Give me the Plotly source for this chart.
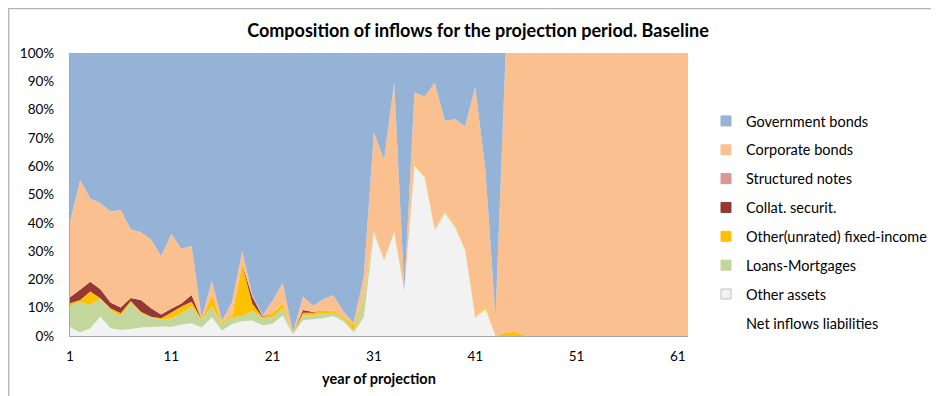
import plotly.graph_objects as go

years = list(range(1, 63))

other_assets = [3.2, 1.2, 2.7, 6.9, 2.7, 2.1, 2.5, 3.0, 3.2, 3.4,
                3.2, 4.1, 4.5, 3.0, 6.6, 1.9, 4.2, 5.2, 5.5, 3.7,
                4.3, 7.2, 0.5, 5.6, 5.9, 6.3, 7.1, 5.1, 1.2, 6.6,
                36.3, 26.6, 36.5, 15.8, 60.2, 56.0, 37.3, 43.3, 38.4, 30.2,
                6.4, 9.5, 0, 0, 0] + [0] * 17
loans_mortgages = [7.6, 10.8, 8.3, 6.2, 6.5, 5.0, 9.3, 5.0, 3.3, 2.5,
                   3.0, 3.9, 5.9, 2.6, 3.8, 2.4, 2.4, 1.9, 3.4, 2.5,
                   2.5, 2.6, 0.3, 1.8, 1.3, 1.7, 1.1, 1.1, 0.7, 6.9,
                   0.7, 0.3, 0.3, 0.1, 0.2, 0.3, 0.2, 0.7, 0.3, 0.2,
                   0.2, 0.2, 0, 0, 0] + [0] * 17
other_fixed_income = [0.8, 0.7, 4.7, 0.2, 0.6, 0.9, 0.6, 0.6, 0.3, 0.4,
                      2.1, 2.4, 1.7, 0.2, 4.1, 0.6, 0.8, 18.0, 2.5, 0.4,
                      1.2, 1.7, 0.2, 0.8, 1.0, 0.9, 0.7, 0.6, 2.0, 0.5,
                      0.3, 0.2, 0.2, 0.1, 0.6, 0.5, 0.3, 0.3, 0.3, 0.3,
                      0.2, 0.6, 0, 1.2, 1.5] + [0] * 17
collat_securit = [2.1, 3.6, 3.5, 3.2, 2.0, 2.1, 1.0, 4.1, 3.0, 1.3,
                  1.3, 1.1, 2.4, 0.1, 0, 0, 0, 0.2, 2.5, 0.3,
                  0, 0, 0, 1.0, 0.3, 0, 0, 0, 0, 0,
                  0, 0, 0, 0, 0, 0, 0, 0, 0, 0,
                  0, 0, 0, 0, 0] + [0] * 17
structured_notes = [0] * 62
corporate_bonds = [26.7, 38.8, 29.4, 30.4, 32.2, 34.4, 24.3, 24.0, 24.3, 20.7,
                   26.4, 19.3, 17.3, 0.5, 4.9, 0.5, 4.7, 4.7, 0.6, 0.3,
                   4.5, 7.3, 0.2, 4.7, 2.2, 4.1, 5.5, 1.8, 0.6, 7.2,
                   34.5, 35.3, 52.5, 0.3, 25.0, 27.8, 51.7, 31.8, 37.6, 43.3,
                   81.3, 48.4, 6.8, 98.8, 98.5] + [100] * 17
government_bonds = [59.6, 44.9, 51.4, 53.1, 56.0, 55.5, 62.3, 63.3, 65.9, 71.7,
                    64.0, 69.2, 68.2, 93.6, 80.6, 94.6, 87.9, 70.0, 85.5, 92.8,
                    87.5, 81.2, 98.8, 86.1, 89.3, 87.0, 85.6, 91.4, 95.5, 78.8,
                    28.2, 37.6, 10.5, 83.7, 14.0, 15.4, 10.5, 23.9, 23.4, 26.0,
                    11.9, 41.3, 93.2, 0, 0] + [0] * 17

series = [
    ("Other assets", other_assets, "#F2F2F2"),
    ("Loans-Mortgages", loans_mortgages, "#C3D69B"),
    ("Other(unrated) fixed-income", other_fixed_income, "#FFC000"),
    ("Collat. securit.", collat_securit, "#953735"),
    ("Structured notes", structured_notes, "#D99694"),
    ("Corporate bonds", corporate_bonds, "#FAC090"),
    ("Government bonds", government_bonds, "#95B3D7"),
]

xtick_vals = [1, 11, 21, 31, 41, 51, 61]
ytick_vals = [0, 10, 20, 30, 40, 50, 60, 70, 80, 90, 100]
ytick_text = [f"{v}%" for v in ytick_vals]

FONT = "Lato, 'Open Sans', sans-serif"

fig = go.Figure()
for name, vals, color in series:
    fig.add_trace(go.Scatter(
        x=years, y=vals, name=name, mode="none", stackgroup="one",
        groupnorm="percent", fillcolor=color, showlegend=False,
        hoverinfo="x+y+name"))

# legend entries, top to bottom
for i, (name, vals, color) in enumerate(reversed(series)):
    line_col = "#BFBFBF" if name == "Other assets" else color
    fig.add_trace(go.Scatter(x=[None], y=[None], mode="markers", name=name,
                             marker=dict(size=10, symbol="square", color=color,
                                         line=dict(color=line_col, width=1)),
                             legendgroup=f"g{i}"))
fig.add_trace(go.Scatter(x=[None], y=[None], mode="markers", name="Net inflows liabilities",
                         marker=dict(size=10, symbol="square", color="rgba(0,0,0,0)"),
                         legendgroup="g9"))

OFF = 8  # page body offset
W, H = 939 - OFF, 396 - OFF
L, R, T, B = 70 - OFF, 688 - OFF, 53 - OFF, 336 - OFF
pw, ph = R - L, B - T

fig.update_layout(
    width=W, height=H,
    margin=dict(l=L, r=W - R, t=T, b=H - B, autoexpand=False),
    paper_bgcolor="white", plot_bgcolor="white",
    font=dict(family=FONT, size=13, color="#000000"),
    title=dict(text="<b>Composition of inflows for the projection period. Baseline</b>",
               x=(478 - OFF) / W, xref="container", xanchor="center",
               y=1 - (31 - OFF) / H, yref="container", yanchor="middle",
               font=dict(family=FONT, size=18, color="#000000")),
    showlegend=True,
    legend=dict(x=(706 - OFF - L) / pw, xanchor="left", y=(B - (105 - OFF)) / ph, yanchor="top",
                traceorder="grouped", tracegroupgap=7,
                font=dict(family=FONT, size=14.5), bgcolor="rgba(0,0,0,0)",
                itemclick=False),
    xaxis=dict(range=[1, 62], tickvals=xtick_vals, showgrid=False, zeroline=False,
               showline=True, linecolor="#A6A6A6", linewidth=1.3, ticks="",
               tickfont=dict(family=FONT, size=13.5), ticklabelstandoff=8,
               title=dict(text="<b>year of projection</b>", standoff=10,
                          font=dict(family=FONT, size=14.5))),
    yaxis=dict(range=[0, 100], tickvals=ytick_vals, ticktext=ytick_text, showgrid=False,
               zeroline=False, showline=True, linecolor="#A6A6A6", linewidth=1.3,
               ticks="", tickfont=dict(family=FONT, size=13.5), ticklabelstandoff=12),
    shapes=[dict(type="rect", xref="paper", yref="paper",
                 x0=(0.7 - L) / pw, x1=(W + 10 - L) / pw,
                 y0=(B - H - 10) / ph, y1=(B - 0.7) / ph,
                 line=dict(color="#B3B3B3", width=1.3), fillcolor="rgba(0,0,0,0)",
                 layer="below")],
)

fig.write_html("out.html")
